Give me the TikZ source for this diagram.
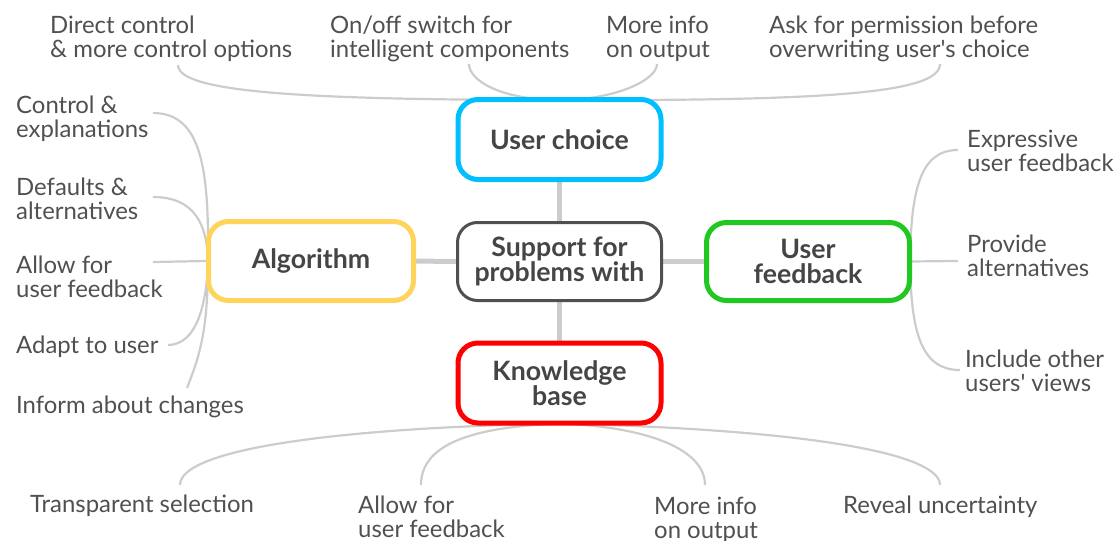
\documentclass[tikz,border=0pt]{standalone}
\usepackage{fontspec}
\setmainfont{Lato}
\newfontfamily\latoplain{Lato}
\definecolor{txt}{HTML}{505050}
\definecolor{txtb}{HTML}{454545}
\definecolor{twigc}{HTML}{CCCCCC}
\definecolor{ucblue}{HTML}{00BFFF}
\definecolor{algyel}{HTML}{FFD45C}
\definecolor{ufgreen}{HTML}{22C822}
\definecolor{kbred}{HTML}{FF0000}
\definecolor{hubgray}{HTML}{505050}
\pgfdeclarelayer{bg}
\pgfsetlayers{bg,main}
\newcommand{\twoline}[2]{\begin{tabular}[t]{@{}l@{}}#1\\#2\end{tabular}}
\newcommand{\apos}{{\latoplain '}}
\begin{document}
\begin{tikzpicture}[x=1pt,y=-1pt,
  hubbox/.style={draw, fill=white, rounded corners=20pt, minimum width=203pt,
    minimum height=80pt, inner sep=0pt, align=center, text=txtb, line width=5pt,
    font=\fontsize{26.7}{25}\selectfont\bfseries},
  leaf/.style={anchor=base west, inner sep=0pt, text=txt, font=\fontsize{23.9}{24}\selectfont},
  twig/.style={draw=twigc, line width=2.2pt},
  trunk/.style={draw=twigc, line width=5pt}]
\useasboundingbox (0,0) rectangle (1120,541);

% hub boxes
\node[hubbox, draw=ucblue] (uc) at (559.5,139.5) {User choice};
\node[hubbox, draw=hubgray, line width=3pt, minimum width=204pt, minimum height=78pt] (sp) at (559.5,261.5) {Support for\\problems with};
\node[hubbox, draw=kbred] (kb) at (559.5,383) {Knowledge\\base};
\node[hubbox, draw=algyel, minimum width=205pt, minimum height=79pt] (alg) at (311,261) {Algorithm};
\node[hubbox, draw=ufgreen, minimum height=78pt] (uf) at (808,261.5) {User\\feedback};

% leaf texts
\node[leaf] (t1) at (50,33) {\twoline{Direct control}{\& more control options}};
\node[leaf] (t2) at (330,33) {\twoline{On/off switch for}{intelligent components}};
\node[leaf] (t3) at (606,33) {\twoline{More info}{on output}};
\node[leaf] (t4) at (769,33) {\twoline{Ask for permission before}{overwriting user\apos s choice}};

\node[leaf] (l1) at (16,113) {\twoline{Control \&}{explanations}};
\node[leaf] (l2) at (16,195) {\twoline{Defaults \&}{alternatives}};
\node[leaf] (l3) at (16,273) {\twoline{Allow for}{user feedback}};
\node[leaf] (l4) at (16,353) {Adapt to user};
\node[leaf] (l5) at (16,413) {Inform about changes};

\node[leaf] (r1) at (967,147) {\twoline{Expressive}{user feedback}};
\node[leaf] (r2) at (967,252) {\twoline{Provide}{alternatives}};
\node[leaf] (r3) at (965,367) {\twoline{Include other}{users\apos\ views}};

\node[leaf] (b1) at (30,512) {Transparent selection};
\node[leaf] (b2) at (358,513) {\twoline{Allow for}{user feedback}};
\node[leaf] (b3) at (654,514) {\twoline{More info}{on output}};
\node[leaf] (b4) at (843,513) {Reveal uncertainty};

% twig end points
\coordinate (ct1) at (178,65);
\coordinate (ct2) at (469,64);
\coordinate (ct3) at (657,64);
\coordinate (ct4) at (940,64);
\coordinate (cl1) at (153,113);
\coordinate (cl2) at (153,197);
\coordinate (cl3) at (153,262);
\coordinate (cl4) at (168,345);
\coordinate (cl5) at (187,388);
\coordinate (cr1) at (958,150);
\coordinate (cr2) at (958,261);
\coordinate (cr3) at (960,370);
\coordinate (cb1) at (180,485);
\coordinate (cb2) at (421,485);
\coordinate (cb3) at (705,485);
\coordinate (cb4) at (940,485);

\begin{pgfonlayer}{bg}
  \draw[trunk] (sp.center) -- (uc.center);
  \draw[trunk] (sp.center) -- (kb.center);
  \draw[trunk] (sp.center) -- (alg.center);
  \draw[trunk] (sp.center) -- (uf.center);

  % top
  \draw[twig] ([yshift=-3pt]uc.north) .. controls (300,100) and (178,92) .. (ct1);
  \draw[twig] ([yshift=-3pt]uc.north) .. controls (500,100) and (469,80) .. (ct2);
  \draw[twig] ([yshift=-3pt]uc.north) .. controls (615,100) and (657,80) .. (ct3);
  \draw[twig] ([yshift=-3pt]uc.north) .. controls (830,101) and (940,93) .. (ct4);

  % left
  \draw[twig] ([xshift=2pt]alg.west) .. controls (209,170) and (202,113) .. (cl1);
  \draw[twig] ([xshift=2pt]alg.west) .. controls (207,225) and (195,197) .. (cl2);
  \draw[twig] ([xshift=2pt]alg.west) -- (cl3);
  \draw[twig] ([xshift=2pt]alg.west) .. controls (207,300) and (198,345) .. (cl4);
  \draw[twig] ([xshift=2pt]alg.west) .. controls (208,330) and (200,355) .. (cl5);

  % right
  \draw[twig] ([xshift=-2pt]uf.east) .. controls (911,190) and (920,150) .. (cr1);
  \draw[twig] ([xshift=-2pt]uf.east) -- (cr2);
  \draw[twig] ([xshift=-2pt]uf.east) .. controls (911,330) and (920,370) .. (cr3);

  % bottom
  \draw[twig] ([yshift=2pt]kb.south) .. controls (330,428) and (180,450) .. (cb1);
  \draw[twig] ([yshift=2pt]kb.south) .. controls (470,427) and (421,445) .. (cb2);
  \draw[twig] ([yshift=2pt]kb.south) .. controls (650,427) and (705,450) .. (cb3);
  \draw[twig] ([yshift=2pt]kb.south) .. controls (820,430) and (940,455) .. (cb4);
\end{pgfonlayer}
\end{tikzpicture}
\end{document}
